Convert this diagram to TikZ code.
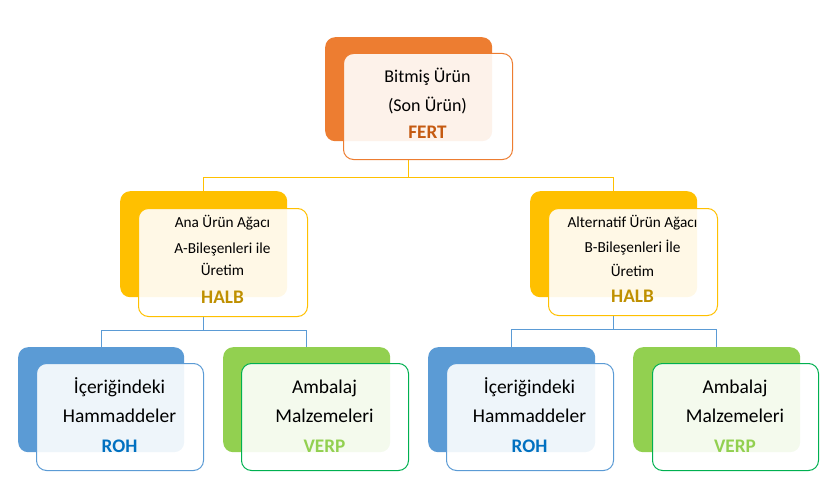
\documentclass[tikz,border=0pt]{standalone}
\usepackage{fontspec}
\setmainfont{Carlito}
\definecolor{cOr}{HTML}{ED7D31}
\definecolor{cOrT}{HTML}{C55A11}
\definecolor{cYe}{HTML}{FFC000}
\definecolor{cYeT}{HTML}{BF9000}
\definecolor{cBl}{HTML}{5B9BD5}
\definecolor{cBlT}{HTML}{0070C0}
\definecolor{cGr}{HTML}{92D050}
\definecolor{cGrL}{HTML}{00B050}
\newcommand\fTop{\fontsize{18}{20}\selectfont}
\newcommand\fMid{\fontsize{15.3}{18}\selectfont}
\newcommand\fBot{\fontsize{19.5}{22}\selectfont}
\newcommand\fBold{\fontsize{19.2}{21}\selectfont\bfseries}
\pgfdeclarelayer{bg}
\pgfsetlayers{bg,main}
\begin{document}
\begin{tikzpicture}[x=1pt,y=-1pt,
  back/.style={draw=none, rounded corners=10pt, anchor=north west, inner sep=0pt,
    minimum width=167pt, minimum height=105pt},
  front/.style={fill=white, fill opacity=0.9, rounded corners=10pt, anchor=north west,
    inner sep=0pt, line width=1pt, minimum width=168pt, minimum height=107pt},
  txt/.style={anchor=base, inner sep=0pt},
  conY/.style={draw=cYe, line width=0.9pt},
  conB/.style={draw=cBl, line width=0.9pt}]
\useasboundingbox (0,0) rectangle (836,487);
% top
\node[back, fill=cOr, minimum height=104pt] (fertB) at (325,37) {};
\node[front, draw=cOr, minimum width=169pt, minimum height=106pt] (fertF) at (343,53) {};
\node[txt, font=\fTop] (t1) at (427.5,83) {Bitmiş Ürün};
\node[txt, font=\fTop] (t2) at (427.5,112) {(Son Ürün)};
\node[txt, font=\fBold, text=cOrT] (t3) at (427.5,139) {FERT};
% middle left
\node[back, fill=cYe, minimum height=106pt] (halbLB) at (120,191) {};
\node[front, draw=cYe, minimum width=169pt, minimum height=108pt] (halbLF) at (138,208) {};
\node[txt, font=\fMid] (m1) at (222.5,227) {Ana Ürün Ağacı};
\node[txt, font=\fMid] (m2) at (222.5,253) {A-Bileşenleri ile};
\node[txt, font=\fMid] (m3) at (222.5,275) {Üretim};
\node[txt, font=\fBold, text=cYeT] (m4) at (222.5,303) {HALB};
% middle right
\node[back, fill=cYe, minimum height=106pt] (halbRB) at (530,191) {};
\node[front, draw=cYe, minimum width=169pt, minimum height=107pt] (halbRF) at (548,208) {};
\node[txt, font=\fMid] (n1) at (632.5,227) {Alternatif Ürün Ağacı};
\node[txt, font=\fMid] (n2) at (632.5,252) {B-Bileşenleri İle};
\node[txt, font=\fMid] (n3) at (632.5,276) {Üretim};
\node[txt, font=\fBold, text=cYeT] (n4) at (632.5,302) {HALB};
% bottom row
\node[back, fill=cBl, minimum width=166pt] (rohLB) at (18,347) {};
\node[front, draw=cBl, minimum width=167pt] (rohLF) at (36,363) {};
\node[txt, font=\fBot] (a1) at (119.5,393) {İçeriğindeki};
\node[txt, font=\fBot] (a2) at (119.5,422) {Hammaddeler};
\node[txt, font=\fBold, text=cBlT] (a3) at (119.5,452) {ROH};

\node[back, fill=cGr] (verpLB) at (223,347) {};
\node[front, draw=cGrL, minimum width=167pt] (verpLF) at (241,363) {};
\node[txt, font=\fBot] (b1) at (324.5,393) {Ambalaj};
\node[txt, font=\fBot] (b2) at (324.5,422) {Malzemeleri};
\node[txt, font=\fBold, text=cGr] (b3) at (324.5,452) {VERP};

\node[back, fill=cBl] (rohRB) at (428,347) {};
\node[front, draw=cBl, minimum width=167pt] (rohRF) at (446,363) {};
\node[txt, font=\fBot] (c1) at (529.5,393) {İçeriğindeki};
\node[txt, font=\fBot] (c2) at (529.5,422) {Hammaddeler};
\node[txt, font=\fBold, text=cBlT] (c3) at (529.5,452) {ROH};

\node[back, fill=cGr] (verpRB) at (633,347) {};
\node[front, draw=cGrL, minimum width=166pt] (verpRF) at (652,363) {};
\node[txt, font=\fBot] (d1) at (735,393) {Ambalaj};
\node[txt, font=\fBot] (d2) at (735,422) {Malzemeleri};
\node[txt, font=\fBold, text=cGr] (d3) at (735,452) {VERP};
% connectors
\begin{pgfonlayer}{bg}
\draw[conY] (fertB.south |- fertF.south) -- ++(0,17) -| (halbLB.north);
\draw[conY] (fertB.south |- fertF.south) -- ++(0,17) -| (halbRB.north);
\draw[conB] (halbLB.south |- halbLF.south) -- ++(0,13) -| (rohLB.north);
\draw[conB] (halbLB.south |- halbLF.south) -- ++(0,13) -| (verpLB.north);
\draw[conB] (halbRB.south |- halbRF.south) -- ++(0,13) -| (rohRB.north);
\draw[conB] (halbRB.south |- halbRF.south) -- ++(0,13) -| (verpRB.north);
\end{pgfonlayer}
\end{tikzpicture}
\end{document}
